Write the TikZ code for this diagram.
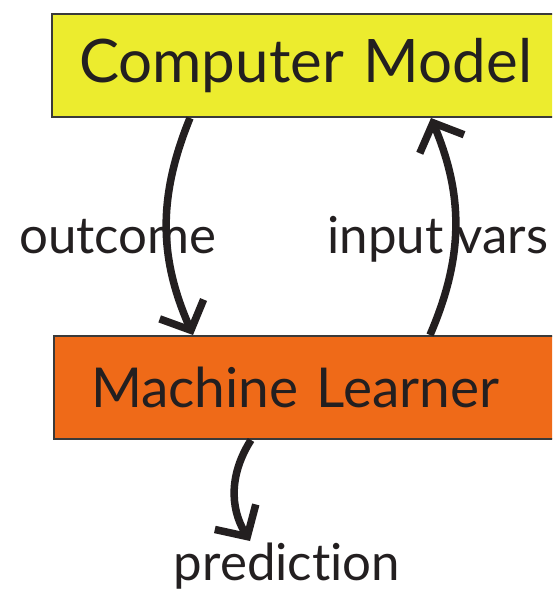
\documentclass[tikz,border=0pt]{standalone}
\usepackage{fontspec}
\setmainfont[Ligatures={NoCommon,NoDiscretionary}]{Lato}
\usetikzlibrary{arrows.meta,calc}
\definecolor{ink}{HTML}{231F20}
\definecolor{boxyellow}{HTML}{ECEC2E}
\definecolor{boxorange}{HTML}{EF6A18}
\definecolor{edge}{HTML}{3A3A3A}
\begin{document}
\begin{tikzpicture}[x=1pt,y=-1pt,
  box/.style={draw=edge, line width=2pt, minimum height=103pt,
    inner ysep=0pt, align=left, text=ink},
  lbl/.style={text=ink, inner sep=0pt, font=\fontsize{51}{53}\selectfont},
  flow/.style={draw=ink, line width=7.5pt, -{Straight Barb[length=23pt,width=48pt]}}]
  \useasboundingbox (0,0) rectangle (552,591);
  \clip (0,0) rectangle (552,591);
  % boxes (both run past the right edge)
  \node[box, fill=boxyellow, anchor=west, inner xsep=27pt, text width=480pt,
        font=\fontsize{60}{62}\selectfont] (cm) at (51,65.5) {Computer Model};
  \node[box, fill=boxorange, anchor=west, inner xsep=37pt, text width=470pt,
        font=\fontsize{55}{57}\selectfont] (ml) at (53,387.5) {Machine Learner};
  % labels
  \node[lbl, anchor=base] (oc) at (118,253) {outcome};
  \node[lbl, anchor=base] (iv) at (438,253) {input vars};
  \node[lbl, anchor=base] (pr) at (287,580) {prediction};
  % connectors
  \coordinate (ocs) at ($(cm.south west)+(139,0)$);
  \coordinate (oce) at ($(ml.north west)+(140,0)$);
  \coordinate (ivs) at ($(ml.north west)+(377,0)$);
  \coordinate (ive) at ($(cm.south west)+(380,0)$);
  \coordinate (prs) at ($(ml.south west)+(198,0)$);
  \coordinate (pre) at (250,541);
  \draw[flow] (ocs) to[bend right=23] (oce);
  \draw[flow] (ivs) to[bend right=23] (ive);
  \draw[flow] (prs) to[bend right=32] (pre);
\end{tikzpicture}
\end{document}
